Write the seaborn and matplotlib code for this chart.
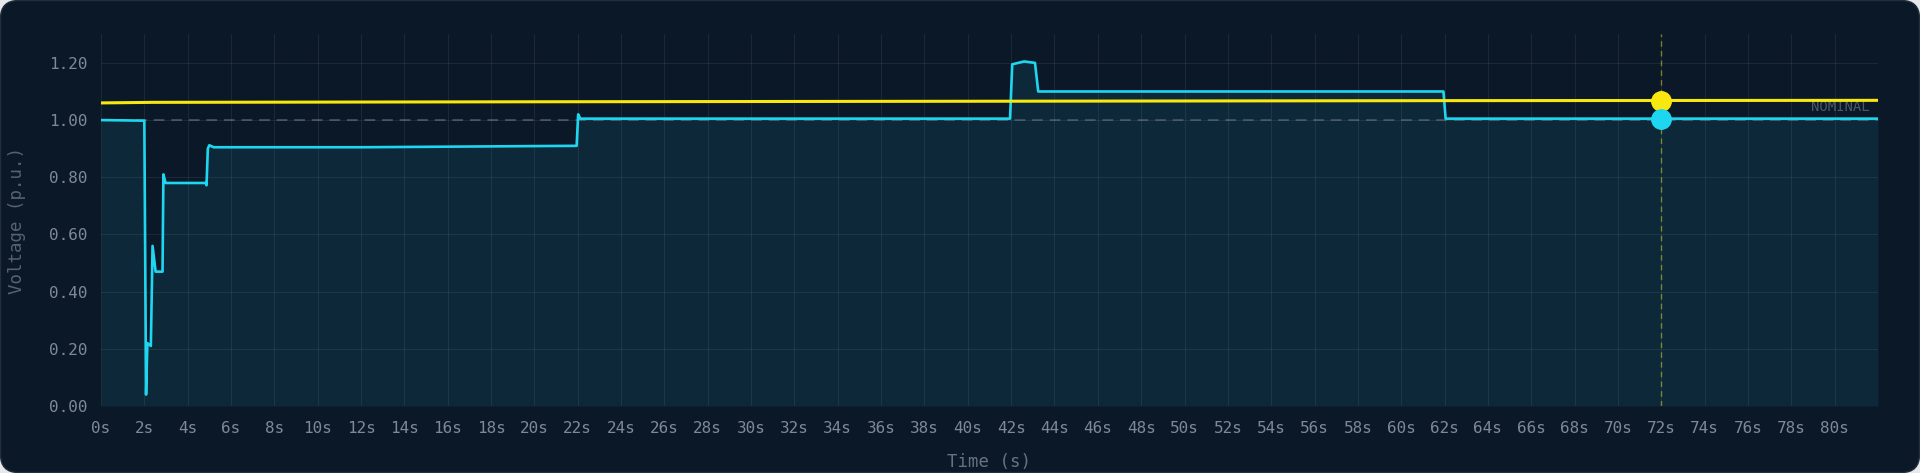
import pandas as pd
import matplotlib
matplotlib.use("Agg")
import matplotlib.pyplot as plt
import matplotlib.patches as mpatches
from matplotlib.transforms import IdentityTransform
import seaborn as sns

# bus voltage trace (p.u.)
time_bus = [0.0, 2.0, 2.08, 2.14, 2.30, 2.38, 2.52, 2.84, 2.88, 2.98, 4.84, 4.87, 4.93, 5.00,
            5.20, 12.0, 21.95, 22.02, 22.12, 41.95, 42.05, 42.6, 43.1, 43.25, 61.95, 62.05, 82.0]
volt_bus = [1.000, 0.998, 0.04, 0.22, 0.21, 0.56, 0.47, 0.47, 0.81, 0.78, 0.78, 0.772, 0.90, 0.912,
            0.905, 0.905, 0.910, 1.020, 1.005, 1.005, 1.195, 1.205, 1.200, 1.100, 1.100, 1.005, 1.005]

# setpoint / reference trace
time_ref = [0.0, 2.4, 20.0, 42.0, 62.0, 82.0]
volt_ref = [1.060, 1.062, 1.064, 1.066, 1.068, 1.069]

cursor_time = 72
cursor_values = [1.068, 1.004]   # ref, bus
nominal = 1.0

x_ticks = list(range(0, 82, 2))
x_labels = [f"{t}s" for t in x_ticks]
y_ticks = [0.0, 0.2, 0.4, 0.6, 0.8, 1.0, 1.2]

BG = "#0b1828"
CYAN = "#1fd6f0"
YELLOW = "#f8e80e"
TICK = "#7d8997"

sns.set_theme(style="dark")
plt.rcParams["font.family"] = ["DejaVu Sans Mono"]

bus = pd.DataFrame({"t": time_bus, "v": volt_bus})
ref = pd.DataFrame({"t": time_ref, "v": volt_ref})

fig = plt.figure(figsize=(19.2, 4.73), dpi=100, facecolor="#e6e8eb")
card = mpatches.FancyBboxPatch((0.5, 0.5), 1919, 472, boxstyle="round,pad=0,rounding_size=18",
                               facecolor=BG, edgecolor="#222e3b", linewidth=1.0,
                               transform=IdentityTransform(), zorder=-5)
fig.patches.append(card)

ax = fig.add_axes([0.0526, 0.1416, 0.9255, 0.7859])
ax.set_facecolor(BG)

ax.fill_between(bus["t"], bus["v"], 0, color=CYAN, alpha=0.085, linewidth=0, zorder=1)
ax.axhline(nominal, color="#4b5a6a", linewidth=1.1, linestyle=(0, (7, 4.5)), zorder=2)
ax.text(81.6, 1.044, "NOMINAL", color="#4a5868", fontsize=10, ha="right", va="center", zorder=2)

sns.lineplot(data=ref, x="t", y="v", ax=ax, color=YELLOW, linewidth=2.2, estimator=None, zorder=4)
sns.lineplot(data=bus, x="t", y="v", ax=ax, color=CYAN, linewidth=1.9, estimator=None, zorder=3)

ax.axvline(cursor_time, color=YELLOW, alpha=0.45, linewidth=1.0, linestyle=(0, (4, 3)), zorder=2)
ax.plot([cursor_time], [cursor_values[0]], "o", color=YELLOW, markersize=14, zorder=5)
ax.plot([cursor_time], [cursor_values[1]], "o", color=CYAN, markersize=14, zorder=6)

ax.set_xlim(0, 82)
ax.set_ylim(0, 1.3)
ax.set_xticks(x_ticks)
ax.set_xticklabels(x_labels)
ax.set_yticks(y_ticks)
ax.set_yticklabels([f"{v:.2f}" for v in y_ticks])
ax.tick_params(axis="both", length=0, colors=TICK, labelsize=11.5)
ax.tick_params(axis="x", pad=11)
ax.tick_params(axis="y", pad=10)

ax.grid(True, color="white", alpha=0.07, linewidth=0.8, zorder=2)
ax.set_axisbelow(False)
for s in ax.spines.values():
    s.set_visible(False)

ax.set_xlabel("Time (s)", color="#66727f", fontsize=12.5, va="center")
ax.set_ylabel("Voltage (p.u.)", color="#56626f", fontsize=12.5, va="center")
ax.xaxis.set_label_coords(0.5, -0.15)
ax.yaxis.set_label_coords(-0.0473, 0.5)

fig.savefig("out.png", dpi=100, facecolor=fig.get_facecolor())
